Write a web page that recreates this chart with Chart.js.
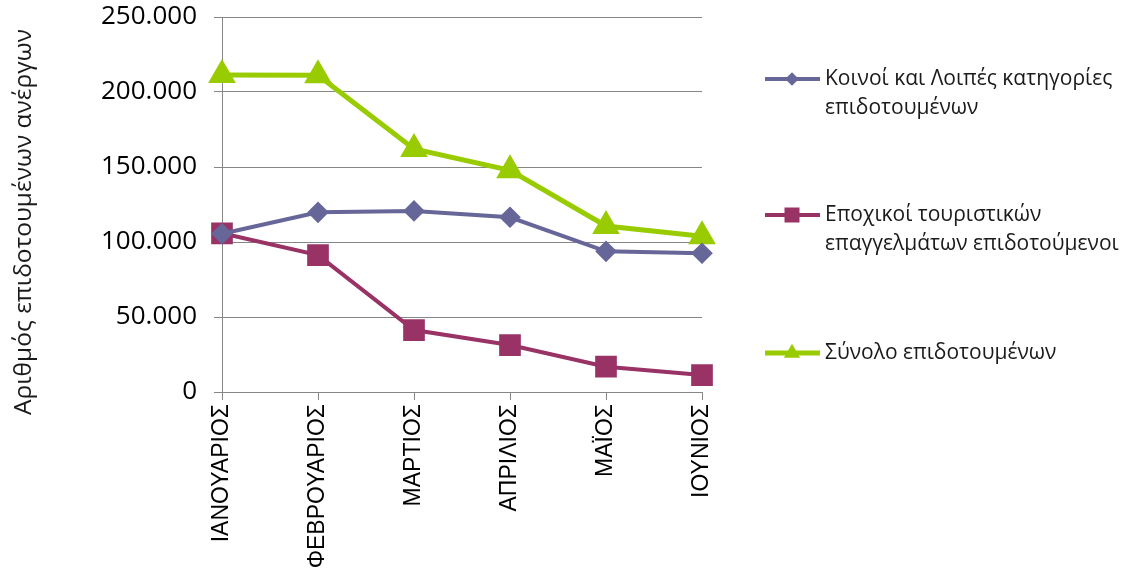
<!DOCTYPE html>
<html>
<head>
<meta charset="utf-8">
<script src="https://cdn.jsdelivr.net/npm/chart.js@4"></script>
<style>
  html, body { margin: 0; padding: 0; background: #fff; }
  #chart { display: block; }
</style>
</head>
<body>
<canvas id="chart" width="1132" height="570"></canvas>
<script>
const months = ['ΙΑΝΟΥΑΡΙΟΣ', 'ΦΕΒΡΟΥΑΡΙΟΣ', 'ΜΑΡΤΙΟΣ', 'ΑΠΡΙΛΙΟΣ', 'ΜΑΪΟΣ', 'ΙΟΥΝΙΟΣ'];
const koinoi = [105500, 119800, 120700, 116500, 93800, 92500];
const epoxikoi = [105800, 91300, 41300, 31300, 16900, 11300];
const synolo = [211300, 211100, 162000, 147800, 110700, 103800];
const yTicks = [0, 50000, 100000, 150000, 200000, 250000];
const seriesLabels = [
  ['Κοινοί και Λοιπές κατηγορίες', 'επιδοτουμένων'],
  ['Εποχικοί τουριστικών', 'επαγγελμάτων επιδοτούμενοι'],
  ['Σύνολο επιδοτουμένων'],
];
const yTitle = 'Αριθμός επιδοτουμένων ανέργων';

const COLORS = {
  blue: '#666699',
  plum: '#993366',
  lime: '#99CC00',
  grid: '#868686',
  ink: '#1a1a1a',
};
const GREEK_FONT = '"Open Sans", "Noto Sans", sans-serif';

function fmt(v) {
  return String(v).replace(/\B(?=(\d{3})+(?!\d))/g, '.');
}

// draws a marker like Chart.js does, used for the legend samples
function marker(ctx, style, x, y, r, color) {
  ctx.fillStyle = color;
  ctx.beginPath();
  if (style === 'rectRot') {
    ctx.moveTo(x, y - r); ctx.lineTo(x + r, y); ctx.lineTo(x, y + r); ctx.lineTo(x - r, y);
  } else if (style === 'rect') {
    const s = r * Math.SQRT1_2;
    ctx.rect(x - s, y - s, 2 * s, 2 * s);
  } else {
    const h = r * Math.sqrt(3) / 2;
    ctx.moveTo(x, y - r); ctx.lineTo(x + h, y + r / 2); ctx.lineTo(x - h, y + r / 2);
  }
  ctx.closePath();
  ctx.fill();
}

const sideLegend = {
  id: 'sideLegend',
  afterDraw(chart) {
    const ctx = chart.ctx;
    const rows = [79, 215, 353];
    ctx.save();
    chart.data.datasets.forEach((ds, i) => {
      const y = rows[i];
      ctx.strokeStyle = ds.borderColor;
      ctx.lineWidth = ds.borderWidth;
      ctx.beginPath();
      ctx.moveTo(765, y);
      ctx.lineTo(820, y);
      ctx.stroke();
      marker(ctx, ds.pointStyle, 792, y, ds.pointRadius * 0.85, ds.borderColor);
      ctx.fillStyle = COLORS.ink;
      ctx.font = '21px ' + GREEK_FONT;
      ctx.textAlign = 'left';
      ctx.textBaseline = 'middle';
      seriesLabels[i].forEach((line, j) => ctx.fillText(line, 825, y + j * 29));
    });
    // y axis title, centred like the original rather than on the plot area
    ctx.translate(24, 222);
    ctx.rotate(-Math.PI / 2);
    ctx.font = '24.5px ' + GREEK_FONT;
    ctx.textAlign = 'center';
    ctx.textBaseline = 'middle';
    ctx.fillText(yTitle, 0, 0);
    ctx.restore();
  },
};

new Chart(document.getElementById('chart'), {
  type: 'line',
  data: {
    labels: months,
    datasets: [
      { label: seriesLabels[0].join(' '), data: koinoi, borderColor: COLORS.blue, backgroundColor: COLORS.blue,
        borderWidth: 4, pointStyle: 'rectRot', pointRadius: 8, clip: false },
      { label: seriesLabels[1].join(' '), data: epoxikoi, borderColor: COLORS.plum, backgroundColor: COLORS.plum,
        borderWidth: 4, pointStyle: 'rect', pointRadius: 12.5, clip: false },
      { label: seriesLabels[2].join(' '), data: synolo, borderColor: COLORS.lime, backgroundColor: COLORS.lime,
        borderWidth: 5, pointStyle: 'triangle', pointRadius: 11, clip: false },
    ],
  },
  options: {
    responsive: false,
    animation: false,
    layout: { padding: { left: 0, top: 17, right: 430, bottom: 0 } },
    elements: { line: { tension: 0 }, point: { borderWidth: 1 } },
    plugins: { legend: { display: false }, tooltip: { enabled: false } },
    scales: {
      x: {
        offset: false,
        afterFit: s => { s.height = 178; s.paddingLeft = 0; s.paddingRight = 0; },
        grid: { drawOnChartArea: false, drawTicks: true, tickLength: 8, color: COLORS.grid },
        border: { display: true, color: COLORS.grid, width: 1 },
        ticks: {
          autoSkip: false, minRotation: 90, maxRotation: 90, padding: 4,
          color: '#000', font: { family: '"Liberation Sans", Arial, sans-serif', size: 23 },
        },
      },
      y: {
        min: 0,
        max: 250000,
        afterFit: s => { s.width = 222; s.paddingTop = 0; s.paddingBottom = 0; },
        afterBuildTicks: s => { s.ticks = yTicks.map(v => ({ value: v })); },
        grid: { color: COLORS.grid, lineWidth: 1, drawTicks: true, tickLength: 8 },
        border: { display: true, color: COLORS.grid, width: 1 },
        ticks: {
          padding: 17, color: '#000',
          font: { family: GREEK_FONT, size: 26 },
          callback: v => fmt(v),
        },
      },
    },
  },
  plugins: [sideLegend],
});
</script>
</body>
</html>
